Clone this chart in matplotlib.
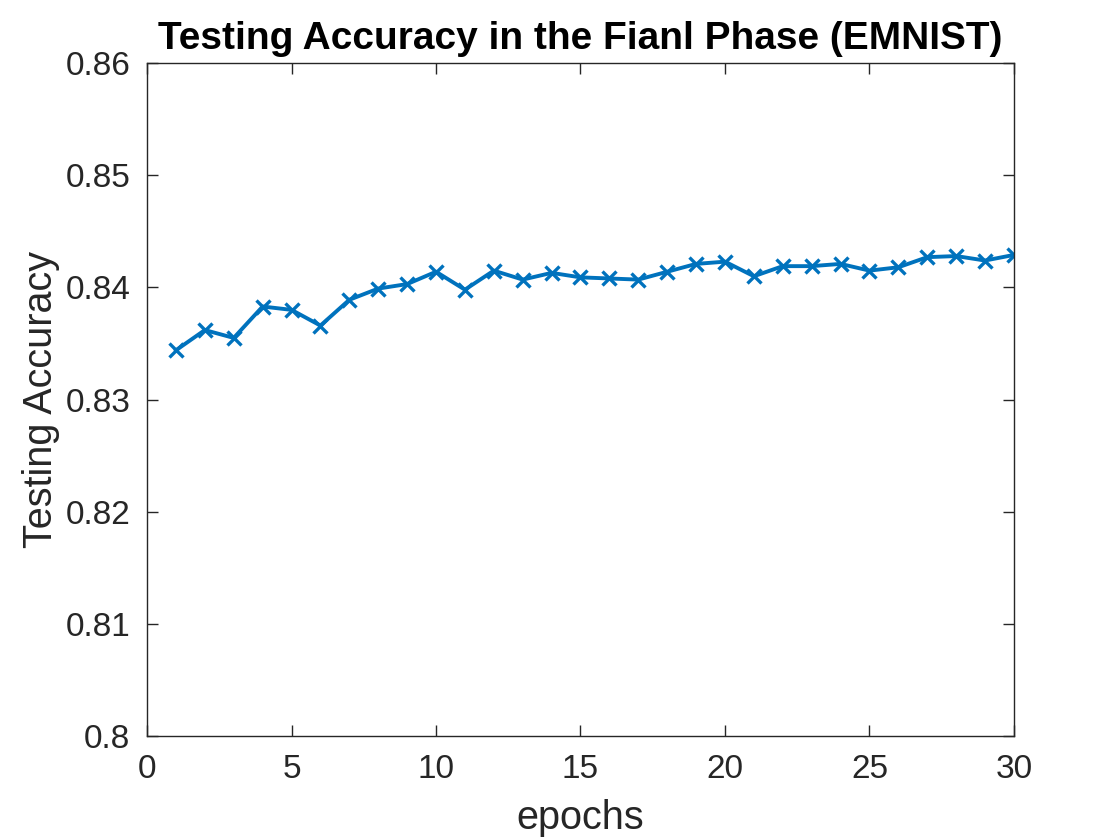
import matplotlib
matplotlib.use("Agg")
import matplotlib.pyplot as plt
from matplotlib.ticker import FuncFormatter

epochs = list(range(1, 31))
accuracy = [0.8344, 0.8362, 0.8355, 0.8383, 0.8380, 0.8366, 0.8389, 0.8399, 0.8403, 0.8414,
            0.8398, 0.8415, 0.8407, 0.8413, 0.8409, 0.8408, 0.8407, 0.8414, 0.8421, 0.8423,
            0.8410, 0.8419, 0.8419, 0.8421, 0.8415, 0.8418, 0.8427, 0.8428, 0.8424, 0.8429]
xticks = [0, 5, 10, 15, 20, 25, 30]
yticks = [0.80, 0.81, 0.82, 0.83, 0.84, 0.85, 0.86]

plt.rcParams['font.family'] = ['Liberation Sans', 'DejaVu Sans']
txt = '#262626'

fig = plt.figure(figsize=(11.2, 8.4), dpi=100)
ax = fig.add_axes([0.1313, 0.1238, 0.774, 0.801])
ax.plot(epochs, accuracy, color='#0072BD', linewidth=2.8, marker='x',
        markersize=10, markeredgewidth=2.4)
ax.set_xlim(0, 30)
ax.set_ylim(0.80, 0.86)
ax.set_xticks(xticks)
ax.set_yticks(yticks)
ax.yaxis.set_major_formatter(FuncFormatter(lambda v, p: f"{v:g}"))
ax.tick_params(direction='in', top=True, right=True, labelsize=24, colors=txt,
               length=8, width=1)
ax.tick_params(axis='x', pad=13)
ax.tick_params(axis='y', pad=12)
for s in ax.spines.values():
    s.set_color(txt)
    s.set_linewidth(1)
ax.set_xlabel('epochs', fontsize=28.5, color=txt, labelpad=10)
ax.set_ylabel('Testing Accuracy', fontsize=28.5, color=txt, labelpad=4)
ax.set_title('Testing Accuracy in the Fianl Phase (EMNIST)', fontsize=28,
             fontweight='bold', color='black', pad=10)
fig.savefig('out.png', dpi=100)
